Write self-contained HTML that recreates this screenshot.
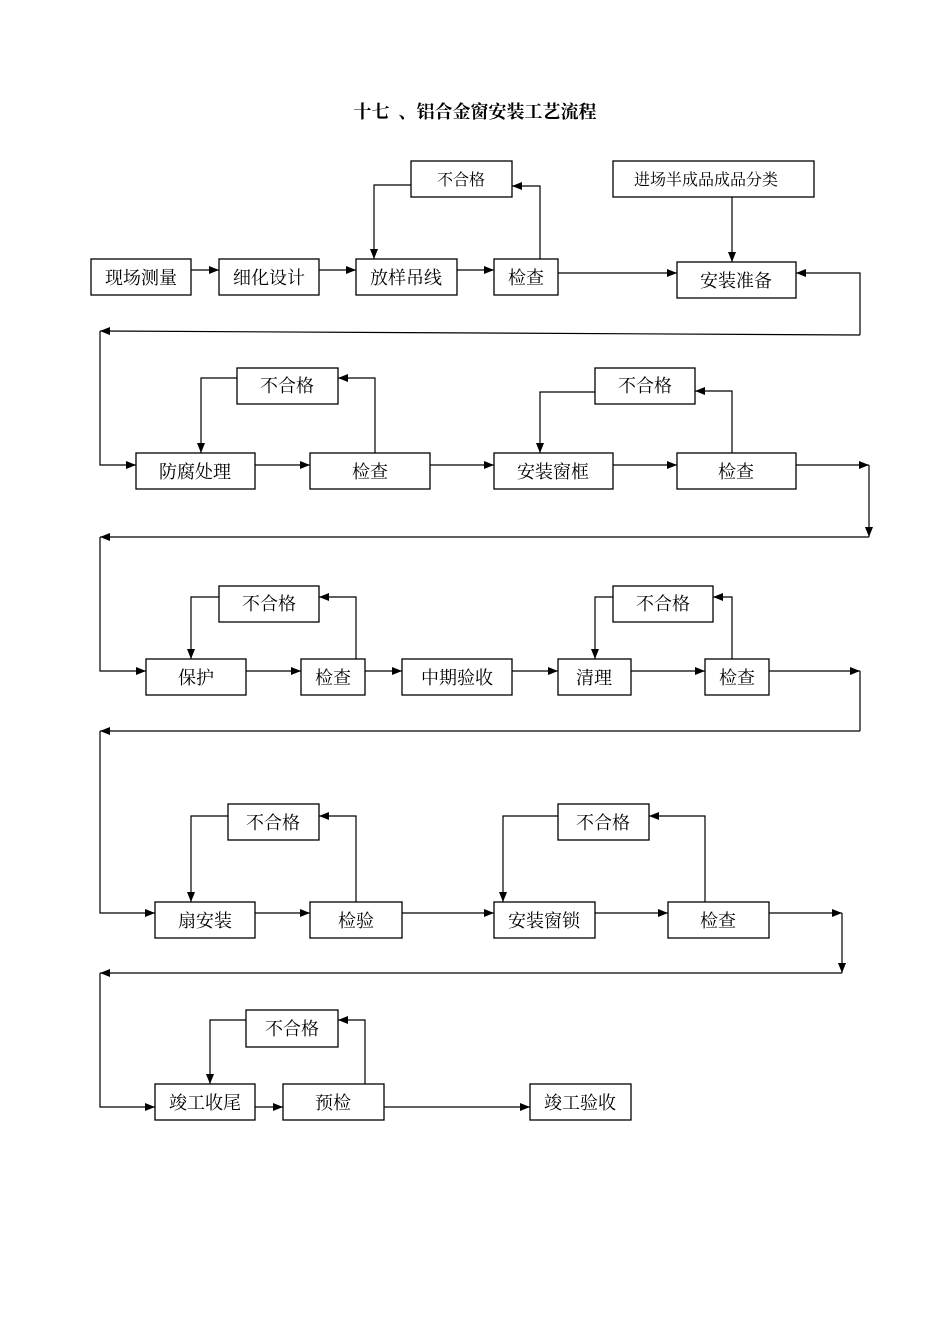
<!DOCTYPE html>
<html><head><meta charset="utf-8"><style>
html,body{margin:0;padding:0;background:#fff;}
svg{display:block;}
text{font-family:"Liberation Serif","Noto Serif CJK SC","Noto Sans CJK SC",serif;fill:#000;}
</style></head><body>
<svg width="950" height="1344" viewBox="0 0 950 1344" xmlns="http://www.w3.org/2000/svg">
<defs><marker id="a" markerWidth="10" markerHeight="8" refX="10" refY="4" orient="auto" markerUnits="userSpaceOnUse"><path d="M0,0 L10,4 L0,8 z" fill="#000"/></marker></defs>
<text x="475" y="118" font-size="18" font-weight="bold" text-anchor="middle" xml:space="preserve">十七  、铝合金窗安装工艺流程</text>
<g fill="#fff" stroke="#000" stroke-width="1.3">
<rect x="91" y="259" width="100" height="36"/><rect x="219" y="259" width="100" height="36"/><rect x="356" y="259" width="101" height="36"/><rect x="494" y="259" width="64" height="36"/><rect x="677" y="262" width="119" height="36"/>
<rect x="411" y="161" width="101" height="36"/><rect x="613" y="161" width="201" height="36"/>
<rect x="136" y="453" width="119" height="36"/><rect x="310" y="453" width="120" height="36"/><rect x="494" y="453" width="119" height="36"/><rect x="677" y="453" width="119" height="36"/>
<rect x="237" y="368" width="101" height="36"/><rect x="595" y="368" width="100" height="36"/>
<rect x="146" y="659" width="100" height="36"/><rect x="301" y="659" width="64" height="36"/><rect x="402" y="659" width="110" height="36"/><rect x="558" y="659" width="73" height="36"/><rect x="705" y="659" width="64" height="36"/>
<rect x="219" y="586" width="100" height="36"/><rect x="613" y="586" width="100" height="36"/>
<rect x="155" y="902" width="100" height="36"/><rect x="310" y="902" width="92" height="36"/><rect x="494" y="902" width="101" height="36"/><rect x="668" y="902" width="101" height="36"/>
<rect x="228" y="804" width="91" height="36"/><rect x="558" y="804" width="91" height="36"/>
<rect x="155" y="1084" width="100" height="36"/><rect x="283" y="1084" width="101" height="36"/><rect x="530" y="1084" width="101" height="36"/>
<rect x="246" y="1010" width="92" height="37"/>
</g>
<g fill="none" stroke="#000" stroke-width="1.2">
<line x1="191" y1="270" x2="219" y2="270" marker-end="url(#a)"/><line x1="319" y1="270" x2="356" y2="270" marker-end="url(#a)"/><line x1="457" y1="270" x2="494" y2="270" marker-end="url(#a)"/><line x1="558" y1="273" x2="677" y2="273" marker-end="url(#a)"/>
<polyline points="540,259 540,186 512,186" marker-end="url(#a)"/><polyline points="411,185 374,185 374,259" marker-end="url(#a)"/>
<line x1="732" y1="197" x2="732" y2="262" marker-end="url(#a)"/>
<polyline points="860,335 860,273 796,273" marker-end="url(#a)"/><line x1="860" y1="335" x2="100" y2="331" marker-end="url(#a)"/><polyline points="100,331 100,465 136,465" marker-end="url(#a)"/>
<line x1="255" y1="465" x2="310" y2="465" marker-end="url(#a)"/><line x1="430" y1="465" x2="494" y2="465" marker-end="url(#a)"/><line x1="613" y1="465" x2="677" y2="465" marker-end="url(#a)"/><line x1="796" y1="465" x2="869" y2="465" marker-end="url(#a)"/>
<polyline points="375,453 375,378 338,378" marker-end="url(#a)"/><polyline points="237,378 201,378 201,453" marker-end="url(#a)"/>
<polyline points="732,453 732,391 695,391" marker-end="url(#a)"/><polyline points="595,392 540,392 540,453" marker-end="url(#a)"/>
<line x1="869" y1="465" x2="869" y2="537" marker-end="url(#a)"/><line x1="869" y1="537" x2="100" y2="537" marker-end="url(#a)"/><polyline points="100,537 100,671 146,671" marker-end="url(#a)"/>
<line x1="246" y1="671" x2="301" y2="671" marker-end="url(#a)"/><line x1="365" y1="671" x2="402" y2="671" marker-end="url(#a)"/><line x1="512" y1="671" x2="558" y2="671" marker-end="url(#a)"/><line x1="631" y1="671" x2="705" y2="671" marker-end="url(#a)"/><line x1="769" y1="671" x2="860" y2="671" marker-end="url(#a)"/>
<polyline points="356,659 356,597 319,597" marker-end="url(#a)"/><polyline points="219,597 191,597 191,659" marker-end="url(#a)"/>
<polyline points="732,659 732,597 713,597" marker-end="url(#a)"/><polyline points="613,597 595,597 595,659" marker-end="url(#a)"/>
<line x1="860" y1="671" x2="860" y2="731"/><line x1="860" y1="731" x2="100" y2="731" marker-end="url(#a)"/><polyline points="100,731 100,913 155,913" marker-end="url(#a)"/>
<line x1="255" y1="913" x2="310" y2="913" marker-end="url(#a)"/><line x1="402" y1="913" x2="494" y2="913" marker-end="url(#a)"/><line x1="595" y1="913" x2="668" y2="913" marker-end="url(#a)"/><line x1="769" y1="913" x2="842" y2="913" marker-end="url(#a)"/>
<polyline points="356,902 356,816 319,816" marker-end="url(#a)"/><polyline points="228,816 191,816 191,902" marker-end="url(#a)"/>
<polyline points="705,902 705,816 649,816" marker-end="url(#a)"/><polyline points="558,816 503,816 503,902" marker-end="url(#a)"/>
<line x1="842" y1="913" x2="842" y2="973" marker-end="url(#a)"/><line x1="842" y1="973" x2="100" y2="973" marker-end="url(#a)"/><polyline points="100,973 100,1107 155,1107" marker-end="url(#a)"/>
<line x1="255" y1="1107" x2="283" y2="1107" marker-end="url(#a)"/><line x1="384" y1="1107" x2="530" y2="1107" marker-end="url(#a)"/>
<polyline points="365,1084 365,1020 338,1020" marker-end="url(#a)"/><polyline points="246,1020 210,1020 210,1084" marker-end="url(#a)"/>
</g>
<g font-size="18" text-anchor="middle">
<text x="141" y="284">现场测量</text><text x="269" y="284">细化设计</text><text x="406" y="284">放样吊线</text><text x="526" y="284">检查</text><text x="736" y="287">安装准备</text>
<text x="461" y="185" font-size="16">不合格</text><text x="706" y="185" font-size="16">进场半成品成品分类</text>
<text x="195" y="478">防腐处理</text><text x="370" y="478">检查</text><text x="553" y="478">安装窗框</text><text x="736" y="478">检查</text>
<text x="287" y="392">不合格</text><text x="645" y="392">不合格</text>
<text x="196" y="684">保护</text><text x="333" y="684">检查</text><text x="457" y="684">中期验收</text><text x="594" y="684">清理</text><text x="737" y="684">检查</text>
<text x="269" y="610">不合格</text><text x="663" y="610">不合格</text>
<text x="205" y="927">扇安装</text><text x="356" y="927">检验</text><text x="544" y="927">安装窗锁</text><text x="718" y="927">检查</text>
<text x="273" y="829">不合格</text><text x="603" y="829">不合格</text>
<text x="205" y="1109">竣工收尾</text><text x="333" y="1109">预检</text><text x="580" y="1109">竣工验收</text>
<text x="292" y="1035">不合格</text>
</g>
</svg>
</body></html>
